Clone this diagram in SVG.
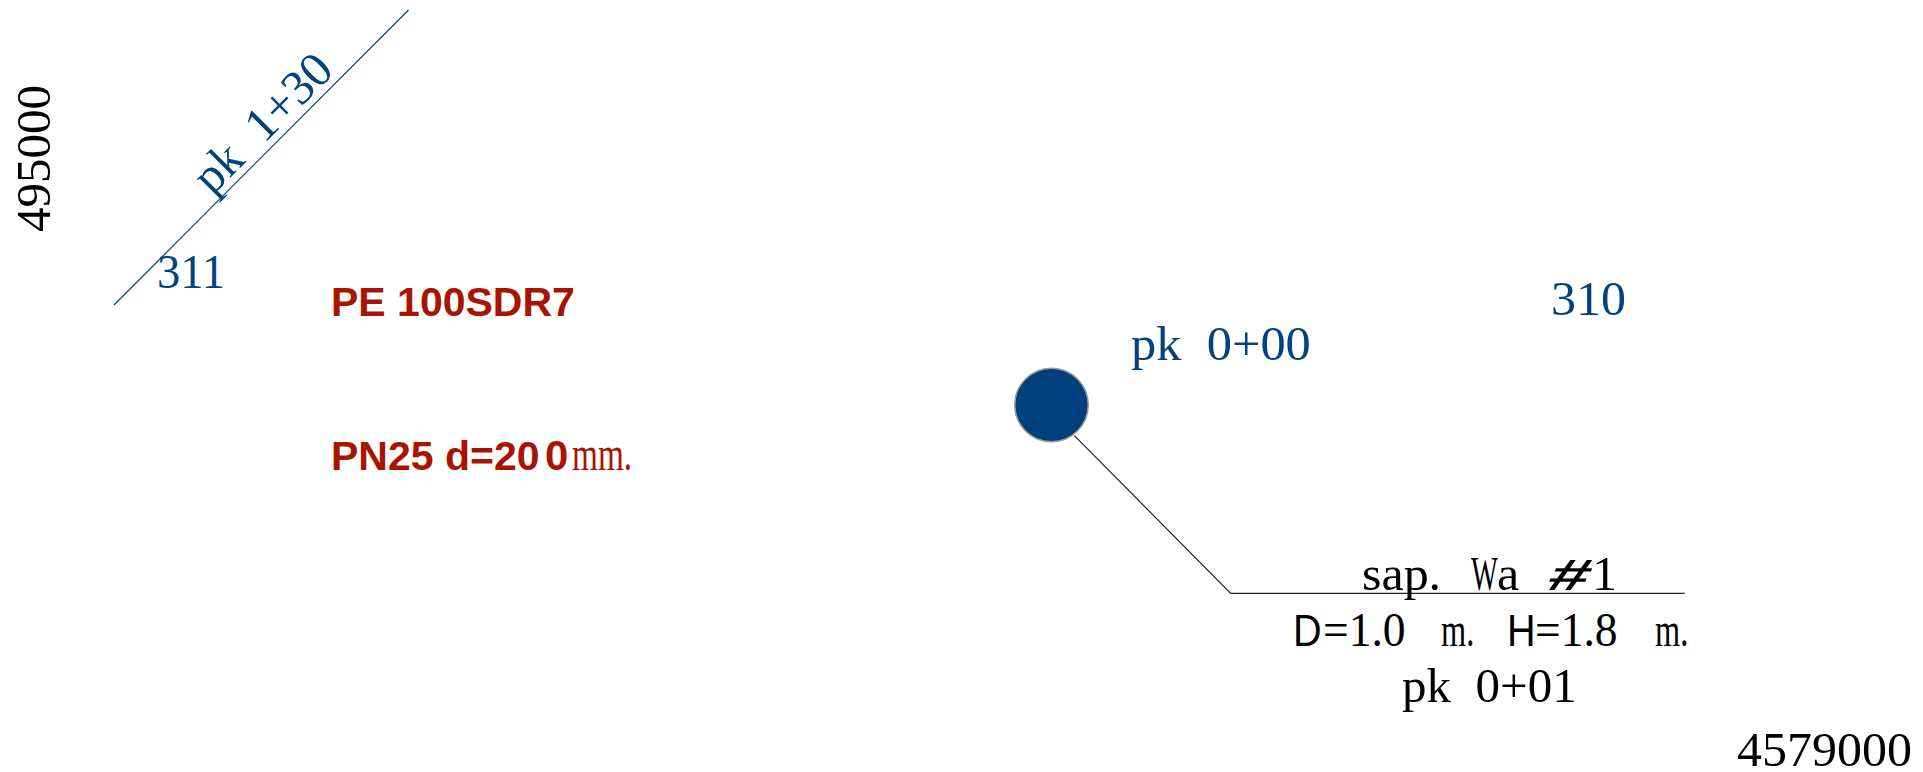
<svg xmlns="http://www.w3.org/2000/svg" width="1923" height="772" viewBox="0 0 1923 772">
<style>
text{font-family:"Liberation Serif","Times New Roman",serif;font-size:49px;white-space:pre}
.b{fill:#00437f}.k{fill:#000}
.r{fill:#a81400;font-family:"Liberation Sans",Arial,sans-serif;font-weight:700;font-size:41px}
.s{font-family:"Liberation Sans",Arial,sans-serif;font-size:44px}
.c{stroke:#00437f;stroke-width:1.200;fill:none}
.n{stroke:#222;stroke-width:1.200;fill:none}
</style>
<rect width="1923" height="772" fill="#fff"/>
<g id="connectors">
<path class="c" d="M114 305L408.500 10"/>
<path class="n" d="M1074.400 435.700L1230.700 593.300H1684.800"/>
</g>
<g id="manhole">
<circle cx="1051.500" cy="405" r="36.700" fill="#00407f" stroke="#999" stroke-width="1.500"/>
</g>
<g id="labels-pipe">
<text class="b" transform="translate(212 196) rotate(-45)">pk  1+30</text>
<text class="b" transform="translate(157 288) scale(.95 1)">311</text>
<text class="b" transform="translate(1551 315) scale(1.02 1)">310</text>
<text class="b" transform="translate(1131 360) scale(1.03 1)">pk  0+00</text>
</g>
<g id="labels-material">
<text class="r" transform="translate(331 316)">PE 100SDR7</text>
<text class="r" transform="translate(331 470)">PN25 d=20</text>
<text class="r" transform="translate(545 470)" style="font-size:42px">0</text>
<text style="fill:#a81400" transform="translate(572 470) scale(.68 1)">mm.</text>
</g>
<g id="labels-manhole">
<text class="k" transform="translate(1362 590) scale(1.02 1)">sap.</text>
<text class="k" transform="translate(1471 590) scale(.58 1)">W</text>
<text class="k" transform="translate(1497 590) scale(1.02 1)">a</text>
<text class="k s" font-weight="700" transform="translate(1545 590) skewX(-20) scale(1.65 1)">#</text>
<text class="k" transform="translate(1592 590) scale(1.02 1)">1</text>
<text class="k s" transform="translate(1293 646) scale(.9 1)">D</text>
<text class="k" transform="translate(1323 646) scale(.93 1)">=1.0</text>
<text class="k" transform="translate(1441 646) scale(.66 1)">m.</text>
<text class="k s" transform="translate(1507 646) scale(.9 1)">H</text>
<text class="k" transform="translate(1535 646) scale(.93 1)">=1.8</text>
<text class="k" transform="translate(1655 646) scale(.66 1)">m.</text>
<text class="k" transform="translate(1402 702)">pk  0+01</text>
</g>
<g id="labels-grid">
<text class="k" transform="translate(50 232) rotate(-90)">495000</text>
<text class="k" transform="translate(1737 766) scale(1.02 1)">4579000</text>
</g>
</svg>
